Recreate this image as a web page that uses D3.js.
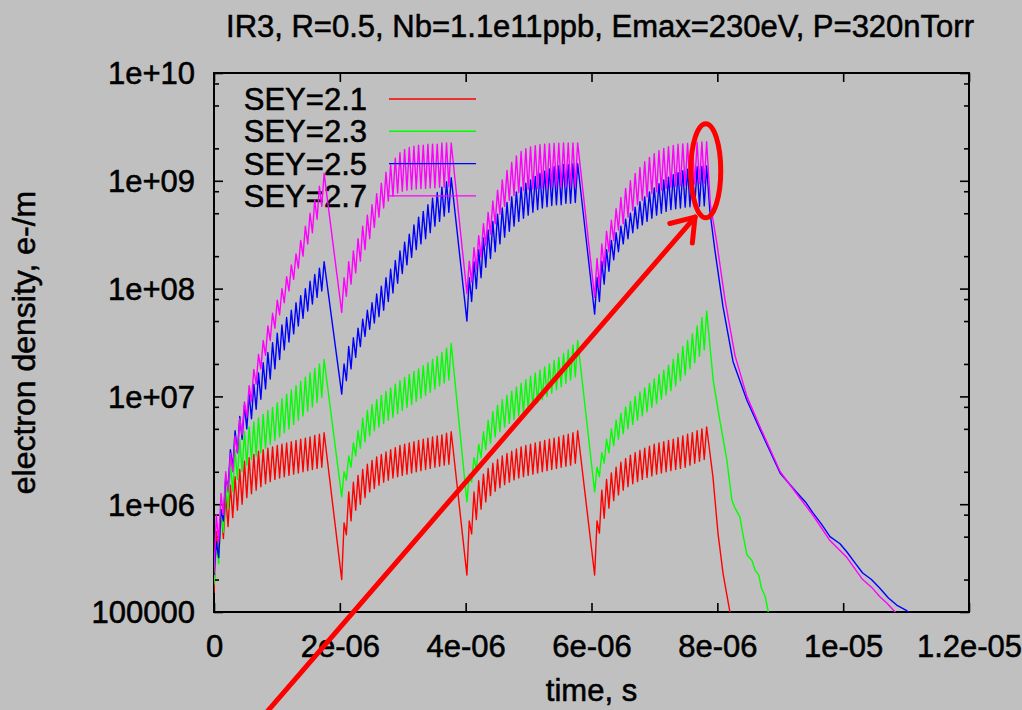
<!DOCTYPE html>
<html><head><meta charset="utf-8">
<script src="https://cdn.jsdelivr.net/npm/d3@7"></script>
<style>
html,body{margin:0;padding:0;background:#c0c0c0;}
svg{display:block;}
text{font-family:"Liberation Sans", Arial, Helvetica, sans-serif; fill:#000; stroke:#000; stroke-width:0.55px;}
</style></head><body>
<svg id="chart" width="1022" height="710"></svg>
<script>
// ---------------- data ----------------
const titleText = "IR3, R=0.5, Nb=1.1e11ppb, Emax=230eV, P=320nTorr";
const xLabelText = "time, s";
const yLabelText = "electron density, e-/m";
const seriesNames = ["SEY=2.1", "SEY=2.3", "SEY=2.5", "SEY=2.7"];
const xTickValues = [0, 2e-6, 4e-6, 6e-6, 8e-6, 1e-5, 1.2e-5];
const xTickLabels = ["0", "2e-06", "4e-06", "6e-06", "8e-06", "1e-05", "1.2e-05"];
const yTickValues = [1e5, 1e6, 1e7, 1e8, 1e9, 1e10];
const yTickLabels = ["100000", "1e+06", "1e+07", "1e+08", "1e+09", "1e+10"];
const yMinorMultipliers = [2, 5, 8];

// bunch trains: start (gap minimum) and time of last peak, seconds
const trainStart = [0, 2.03e-6, 4.02e-6, 6.05e-6];
const trainEnd = [1.75e-6, 3.77e-6, 5.78e-6, 7.83e-6];

// SEY=2.1 (red): peaks and troughs of each oscillation, per train
const sey21Peaks = [
  [5.6e5, 9e5, 1.2e6, 1.5e6, 1.8e6, 2.1e6, 2.5e6, 2.7e6, 2.9e6, 3.1e6, 3.2e6, 3.3e6, 3.4e6, 3.5e6, 3.6e6, 3.7e6, 3.8e6, 3.9e6, 4.0e6, 4.1e6, 4.2e6, 4.35e6, 4.45e6, 4.6e6],
  [6.7e5, 1.3e6, 1.6e6, 1.85e6, 2.1e6, 2.35e6, 2.55e6, 2.75e6, 2.9e6, 3.05e6, 3.2e6, 3.35e6, 3.5e6, 3.6e6, 3.7e6, 3.8e6, 3.9e6, 4.0e6, 4.1e6, 4.2e6, 4.3e6, 4.4e6, 4.55e6, 4.7e6],
  [7e5, 1.3e6, 1.65e6, 1.9e6, 2.15e6, 2.4e6, 2.6e6, 2.8e6, 2.95e6, 3.1e6, 3.25e6, 3.4e6, 3.5e6, 3.6e6, 3.7e6, 3.8e6, 3.9e6, 4.0e6, 4.1e6, 4.2e6, 4.35e6, 4.45e6, 4.6e6, 4.8e6],
  [7e5, 1.35e6, 1.7e6, 1.95e6, 2.2e6, 2.45e6, 2.65e6, 2.85e6, 3.0e6, 3.15e6, 3.3e6, 3.45e6, 3.6e6, 3.7e6, 3.8e6, 3.9e6, 4.0e6, 4.15e6, 4.3e6, 4.45e6, 4.6e6, 4.8e6, 5.0e6, 5.2e6]
];
const sey21Troughs = [
  [1.5e5, 3.2e5, 4.8e5, 6.2e5, 7.5e5, 8.8e5, 1.0e6, 1.15e6, 1.25e6, 1.35e6, 1.45e6, 1.55e6, 1.62e6, 1.7e6, 1.75e6, 1.8e6, 1.85e6, 1.9e6, 1.95e6, 2.0e6, 2.05e6, 2.1e6, 2.15e6, 2.2e6],
  [2.0e5, 5.2e5, 7e5, 8.8e5, 1.0e6, 1.15e6, 1.3e6, 1.4e6, 1.5e6, 1.6e6, 1.67e6, 1.75e6, 1.8e6, 1.85e6, 1.9e6, 1.95e6, 2.0e6, 2.05e6, 2.1e6, 2.15e6, 2.2e6, 2.25e6, 2.3e6, 2.35e6],
  [2.2e5, 5.3e5, 7.2e5, 9e5, 1.05e6, 1.2e6, 1.32e6, 1.42e6, 1.52e6, 1.6e6, 1.68e6, 1.75e6, 1.8e6, 1.85e6, 1.9e6, 1.95e6, 2.0e6, 2.05e6, 2.1e6, 2.15e6, 2.2e6, 2.25e6, 2.3e6, 2.4e6],
  [2.2e5, 5.4e5, 7.4e5, 9.2e5, 1.08e6, 1.22e6, 1.35e6, 1.45e6, 1.55e6, 1.62e6, 1.7e6, 1.77e6, 1.83e6, 1.9e6, 1.95e6, 2.0e6, 2.05e6, 2.1e6, 2.15e6, 2.2e6, 2.3e6, 2.4e6, 2.5e6, 2.6e6]
];
const sey21DecayT = [7.93e-6, 8.01e-6, 8.09e-6, 8.2e-6, 8.3e-6];
const sey21DecayV = [1.8e6, 5.4e5, 2.3e5, 1.0e5, 4.5e4];

// SEY=2.3 (green)
const sey23Peaks = [
  [4.5e5, 8.9e5, 1.6e6, 2.4e6, 3.2e6, 4.0e6, 4.7e6, 5.2e6, 5.8e6, 6.3e6, 6.8e6, 7.4e6, 7.9e6, 8.7e6, 9.5e6, 1.05e7, 1.15e7, 1.26e7, 1.38e7, 1.51e7, 1.66e7, 1.82e7, 2.0e7, 2.2e7],
  [2.0e6, 2.8e6, 3.7e6, 4.8e6, 6.3e6, 7.4e6, 8.4e6, 9.3e6, 1.02e7, 1.11e7, 1.2e7, 1.3e7, 1.4e7, 1.5e7, 1.6e7, 1.7e7, 1.8e7, 1.92e7, 2.05e7, 2.2e7, 2.35e7, 2.55e7, 2.8e7, 3.1e7],
  [1.9e6, 2.7e6, 3.6e6, 4.7e6, 6.0e6, 7.2e6, 8.3e6, 9.3e6, 1.02e7, 1.12e7, 1.22e7, 1.32e7, 1.43e7, 1.54e7, 1.65e7, 1.76e7, 1.88e7, 2.0e7, 2.15e7, 2.3e7, 2.5e7, 2.7e7, 3.0e7, 3.3e7],
  [2.2e6, 3.0e6, 4.0e6, 5.0e6, 6.0e6, 7.0e6, 8.0e6, 9.0e6, 1.0e7, 1.1e7, 1.2e7, 1.32e7, 1.45e7, 1.6e7, 1.75e7, 1.95e7, 2.2e7, 2.5e7, 2.9e7, 3.3e7, 3.8e7, 4.5e7, 5.4e7, 6.2e7]
];
const sey23Troughs = [
  [1.8e5, 2.8e5, 5.5e5, 9e5, 1.3e6, 1.7e6, 2.0e6, 2.3e6, 2.6e6, 2.8e6, 3.0e6, 3.3e6, 3.6e6, 3.9e6, 4.2e6, 4.6e6, 5.0e6, 5.5e6, 6.0e6, 6.6e6, 7.3e6, 8.0e6, 8.8e6, 9.8e6],
  [1.17e6, 1.67e6, 2.2e6, 2.8e6, 3.3e6, 3.8e6, 4.3e6, 4.8e6, 5.2e6, 5.6e6, 6.0e6, 6.4e6, 6.9e6, 7.4e6, 7.9e6, 8.4e6, 9.0e6, 9.6e6, 1.02e7, 1.09e7, 1.17e7, 1.25e7, 1.33e7, 1.42e7],
  [1.05e6, 1.6e6, 2.1e6, 2.7e6, 3.2e6, 3.7e6, 4.2e6, 4.7e6, 5.2e6, 5.6e6, 6.1e6, 6.6e6, 7.1e6, 7.6e6, 8.1e6, 8.7e6, 9.3e6, 1.0e7, 1.07e7, 1.15e7, 1.23e7, 1.32e7, 1.42e7, 1.52e7],
  [1.3e6, 1.8e6, 2.4e6, 3.0e6, 3.5e6, 4.0e6, 4.5e6, 5.0e6, 5.5e6, 6.0e6, 6.6e6, 7.2e6, 7.9e6, 8.6e6, 9.4e6, 1.03e7, 1.13e7, 1.25e7, 1.4e7, 1.58e7, 1.8e7, 2.05e7, 2.35e7, 2.7e7]
];
const sey23DecayT = [7.935e-6, 8.04e-6, 8.15e-6, 8.23e-6, 8.27e-6, 8.36e-6, 8.40e-6, 8.47e-6, 8.55e-6, 8.60e-6, 8.66e-6, 8.70e-6, 8.76e-6, 8.81e-6, 8.9e-6];
const sey23DecayV = [1.4e7, 6e6, 2.6e6, 1.1e6, 9.5e5, 7.6e5, 5.5e5, 3.4e5, 3.0e5, 2.45e5, 2.2e5, 1.67e5, 1.4e5, 1.0e5, 6e4];

// SEY=2.5 (blue)
const sey25Peaks = [
  [4.5e5, 8.9e5, 1.8e6, 3.2e6, 4.8e6, 6.5e6, 8.3e6, 1.05e7, 1.3e7, 1.65e7, 2.05e7, 2.55e7, 3.15e7, 3.85e7, 4.6e7, 5.4e7, 6.3e7, 7.4e7, 8.6e7, 1.0e8, 1.17e8, 1.35e8, 1.55e8, 1.78e8],
  [2.0e7, 2.9e7, 3.5e7, 4.3e7, 5.2e7, 6.3e7, 7.4e7, 8.9e7, 1.05e8, 1.26e8, 1.51e8, 1.82e8, 2.24e8, 2.7e8, 3.2e8, 3.9e8, 4.6e8, 5.2e8, 6.0e8, 6.9e8, 7.8e8, 8.7e8, 9.8e8, 1.07e9],
  [1.26e8, 1.78e8, 2.3e8, 2.95e8, 3.5e8, 4.2e8, 4.9e8, 5.6e8, 6.3e8, 7.1e8, 7.9e8, 8.7e8, 9.5e8, 1.02e9, 1.1e9, 1.17e9, 1.23e9, 1.29e9, 1.35e9, 1.38e9, 1.41e9, 1.41e9, 1.44e9, 1.44e9],
  [1.27e8, 1.8e8, 2.3e8, 2.8e8, 3.3e8, 3.8e8, 4.4e8, 5.0e8, 5.7e8, 6.4e8, 7.1e8, 7.9e8, 8.6e8, 9.4e8, 1.02e9, 1.08e9, 1.14e9, 1.19e9, 1.24e9, 1.28e9, 1.32e9, 1.35e9, 1.36e9, 1.37e9]
];
const sey25Troughs = [
  [2.2e5, 3.2e5, 7e5, 1.4e6, 2.2e6, 3.0e6, 4.0e6, 5.0e6, 6.2e6, 7.6e6, 9.4e6, 1.17e7, 1.45e7, 1.8e7, 2.2e7, 2.7e7, 3.2e7, 3.8e7, 4.5e7, 5.3e7, 6.2e7, 7.2e7, 8.3e7, 9.5e7],
  [1.05e7, 1.4e7, 1.8e7, 2.3e7, 2.9e7, 3.6e7, 4.2e7, 4.8e7, 5.5e7, 6.3e7, 7.6e7, 9.1e7, 1.12e8, 1.38e8, 1.66e8, 1.95e8, 2.3e8, 2.6e8, 2.9e8, 3.3e8, 3.8e8, 4.2e8, 4.7e8, 5.1e8],
  [5e7, 7.6e7, 1.0e8, 1.26e8, 1.58e8, 1.9e8, 2.2e8, 2.6e8, 3.0e8, 3.4e8, 3.8e8, 4.2e8, 4.5e8, 4.8e8, 5.1e8, 5.4e8, 5.6e8, 5.75e8, 5.9e8, 6.0e8, 6.0e8, 6.2e8, 6.2e8, 6.3e8],
  [5.8e7, 7.6e7, 1.1e8, 1.45e8, 1.85e8, 2.2e8, 2.6e8, 2.9e8, 3.3e8, 3.6e8, 3.9e8, 4.2e8, 4.5e8, 4.8e8, 5.0e8, 5.2e8, 5.4e8, 5.5e8, 5.6e8, 5.7e8, 5.75e8, 5.8e8, 5.8e8, 5.85e8]
];
const sey25DecayT = [7.88e-6, 7.96e-6, 8.09e-6, 8.25e-6, 8.47e-6, 8.68e-6, 9.0e-6, 9.26e-6, 9.40e-6, 9.52e-6, 9.65e-6, 9.79e-6, 9.95e-6, 10.06e-6, 10.2e-6, 10.31e-6, 10.45e-6, 10.58e-6, 10.72e-6, 10.85e-6, 11.01e-6, 11.15e-6];
const sey25DecayV = [5.3e8, 2.3e8, 6.8e7, 2.1e7, 9.2e6, 4.9e6, 1.94e6, 1.29e6, 1.05e6, 8.3e5, 6.6e5, 5.0e5, 4.3e5, 3.6e5, 2.8e5, 2.3e5, 2.0e5, 1.67e5, 1.35e5, 1.16e5, 1.03e5, 8.5e4];

// SEY=2.7 (magenta)
const sey27Peaks = [
  [7.9e5, 1.26e6, 2.0e6, 2.95e6, 4.3e6, 6.2e6, 8.9e6, 1.26e7, 1.78e7, 2.45e7, 3.3e7, 4.5e7, 5.9e7, 7.8e7, 1.0e8, 1.29e8, 1.66e8, 2.1e8, 2.8e8, 3.8e8, 5.0e8, 6.6e8, 8.9e8, 1.17e9],
  [1.26e8, 1.78e8, 2.24e8, 2.9e8, 3.8e8, 4.8e8, 6.0e8, 7.6e8, 9.5e8, 1.2e9, 1.41e9, 1.62e9, 1.82e9, 1.95e9, 2.04e9, 2.09e9, 2.14e9, 2.14e9, 2.19e9, 2.19e9, 2.19e9, 2.24e9, 2.24e9, 2.24e9],
  [1.8e8, 2.4e8, 3.1e8, 4.0e8, 5.1e8, 6.5e8, 8.2e8, 1.02e9, 1.25e9, 1.48e9, 1.7e9, 1.87e9, 1.98e9, 2.06e9, 2.12e9, 2.16e9, 2.19e9, 2.21e9, 2.22e9, 2.23e9, 2.24e9, 2.24e9, 2.25e9, 2.25e9],
  [1.9e8, 2.6e8, 3.4e8, 4.3e8, 5.5e8, 7.0e8, 8.5e8, 1.0e9, 1.17e9, 1.33e9, 1.5e9, 1.65e9, 1.78e9, 1.9e9, 2.0e9, 2.07e9, 2.13e9, 2.18e9, 2.2e9, 2.22e9, 2.25e9, 2.27e9, 2.29e9, 2.3e9]
];
const sey27Troughs = [
  [2.3e5, 4.5e5, 8e5, 1.3e6, 2.0e6, 3.0e6, 4.4e6, 6.4e6, 9e6, 1.3e7, 1.8e7, 2.4e7, 3.3e7, 4.3e7, 5.7e7, 7.4e7, 9.5e7, 1.22e8, 1.55e8, 2.0e8, 2.6e8, 3.3e8, 4.4e8, 5.8e8],
  [6e7, 8.5e7, 1.1e8, 1.4e8, 1.8e8, 2.3e8, 2.9e8, 3.7e8, 4.6e8, 5.6e8, 6.5e8, 7.2e8, 7.7e8, 8.0e8, 8.2e8, 8.3e8, 8.4e8, 8.5e8, 8.5e8, 8.6e8, 8.6e8, 8.7e8, 8.7e8, 8.8e8],
  [9e7, 1.15e8, 1.5e8, 1.95e8, 2.5e8, 3.2e8, 4.0e8, 4.9e8, 5.8e8, 6.6e8, 7.3e8, 7.8e8, 8.1e8, 8.3e8, 8.4e8, 8.5e8, 8.6e8, 8.6e8, 8.7e8, 8.7e8, 8.7e8, 8.8e8, 8.8e8, 8.8e8],
  [8.3e7, 1.04e8, 1.6e8, 2.2e8, 2.8e8, 3.5e8, 4.0e8, 4.6e8, 5.3e8, 6.0e8, 6.6e8, 7.1e8, 7.6e8, 7.9e8, 8.2e8, 8.5e8, 8.7e8, 8.9e8, 9.0e8, 9.1e8, 9.2e8, 9.3e8, 9.4e8, 9.5e8]
];
const sey27DecayT = [7.89e-6, 7.99e-6, 8.12e-6, 8.28e-6, 8.47e-6, 8.68e-6, 9.0e-6, 9.26e-6, 9.52e-6, 9.79e-6, 10.06e-6, 10.31e-6, 10.45e-6, 10.58e-6, 10.7e-6, 10.8e-6, 10.9e-6];
const sey27DecayV = [6e8, 2.7e8, 8e7, 2.4e7, 1.0e7, 5.2e6, 2.0e6, 1.25e6, 7.9e5, 4.6e5, 3.2e5, 2.0e5, 1.7e5, 1.39e5, 1.2e5, 1.04e5, 9e4];

// annotation (data coordinates)
const ellipseCenter = [7.816e-6, 1.24e9];
const arrowTail = [0.80e-6, 1.11e4];
const arrowTip = [7.645e-6, 4.6e8];

// ---------------- styles ----------------
const seriesColors = ["#ff0000", "#00ff00", "#0000ff", "#ff00ff"];
const FONT = 31;
const plot = {left: 214, right: 969, top: 73, bottom: 612};

// ---------------- drawing ----------------
const svg = d3.select("#chart");
svg.append("rect").attr("width", 1022).attr("height", 710).attr("fill", "#c0c0c0");

const x = d3.scaleLinear().domain([0, 1.2e-5]).range([plot.left, plot.right]);
const y = d3.scaleLog().domain([1e5, 1e10]).range([plot.bottom, plot.top]);

function buildPoints(peaks, troughs, decT, decV) {
  const pts = [];
  for (let k = 0; k < trainStart.length; k++) {
    const s = trainStart[k], e = trainEnd[k];
    const n = peaks[k].length;
    const p = (e - s) / (n - 0.5);
    for (let i = 0; i < n; i++) {
      pts.push([s + i * p, troughs[k][i]]);
      pts.push([s + (i + 0.5) * p, peaks[k][i]]);
    }
  }
  decT.forEach((t, i) => pts.push([t, decV[i]]));
  return pts;
}

const series = [
  {name: seriesNames[0], color: seriesColors[0], pts: buildPoints(sey21Peaks, sey21Troughs, sey21DecayT, sey21DecayV)},
  {name: seriesNames[1], color: seriesColors[1], pts: buildPoints(sey23Peaks, sey23Troughs, sey23DecayT, sey23DecayV)},
  {name: seriesNames[2], color: seriesColors[2], pts: buildPoints(sey25Peaks, sey25Troughs, sey25DecayT, sey25DecayV)},
  {name: seriesNames[3], color: seriesColors[3], pts: buildPoints(sey27Peaks, sey27Troughs, sey27DecayT, sey27DecayV)}
];

svg.append("defs").append("clipPath").attr("id", "clip")
  .append("rect").attr("x", plot.left).attr("y", plot.top)
  .attr("width", plot.right - plot.left).attr("height", plot.bottom - plot.top);

// axes (ticks inward on all four sides)
const minorVals = [];
for (let e = 5; e < 10; e++) yMinorMultipliers.forEach(m => minorVals.push(m * Math.pow(10, e)));

function styleAxis(g) {
  g.select(".domain").remove();
  g.selectAll(".tick line").attr("stroke", "#000").attr("stroke-width", 1.6);
  g.selectAll(".tick text").style("font-size", FONT + "px").attr("fill", "#000");
}

svg.append("g").attr("transform", `translate(0,${plot.bottom})`)
  .call(d3.axisBottom(x).tickValues(xTickValues).tickFormat((d, i) => xTickLabels[i]).tickSize(-9))
  .call(styleAxis)
  .call(g => g.selectAll(".tick text").attr("y", 45).attr("dy", null));
svg.append("g").attr("transform", `translate(0,${plot.top})`)
  .call(d3.axisTop(x).tickValues(xTickValues).tickFormat("").tickSize(-9)).call(styleAxis);
svg.append("g").attr("transform", `translate(${plot.left},0)`)
  .call(d3.axisLeft(y).tickValues(yTickValues).tickFormat((d, i) => yTickLabels[i]).tickSize(-9))
  .call(styleAxis)
  .call(g => g.selectAll(".tick text").attr("x", -19).attr("dy", "0.35em"));
svg.append("g").attr("transform", `translate(${plot.left},0)`)
  .call(d3.axisLeft(y).tickValues(minorVals).tickFormat("").tickSize(-5)).call(styleAxis);
svg.append("g").attr("transform", `translate(${plot.right},0)`)
  .call(d3.axisRight(y).tickValues(yTickValues).tickFormat("").tickSize(-9)).call(styleAxis);
svg.append("g").attr("transform", `translate(${plot.right},0)`)
  .call(d3.axisRight(y).tickValues(minorVals).tickFormat("").tickSize(-5)).call(styleAxis);

svg.append("rect").attr("x", plot.left).attr("y", plot.top)
  .attr("width", plot.right - plot.left).attr("height", plot.bottom - plot.top)
  .attr("fill", "none").attr("stroke", "#000").attr("stroke-width", 2);

// title and axis labels
svg.append("text").attr("x", 600).attr("y", 37).attr("text-anchor", "middle")
  .style("font-size", FONT + "px").text(titleText);
svg.append("text").attr("x", (plot.left + plot.right) / 2).attr("y", 701).attr("text-anchor", "middle")
  .style("font-size", FONT + "px").text(xLabelText);
svg.append("text").attr("transform", `translate(35,${(plot.top + plot.bottom) / 2}) rotate(-90)`)
  .attr("text-anchor", "middle").style("font-size", (FONT + 1) + "px").text(yLabelText);

// legend text first (data drawn over it, as in the original)
const legendTextRight = 367, legendLineX0 = 389, legendLineX1 = 476, legendY0 = 99, legendStep = 32.3;
series.forEach((s, i) => {
  svg.append("text").attr("x", legendTextRight).attr("y", legendY0 + i * legendStep + 11)
    .attr("text-anchor", "end").style("font-size", FONT + "px").text(s.name);
});

const line = d3.line().x(d => x(d[0])).y(d => y(d[1]));
const dataG = svg.append("g").attr("clip-path", "url(#clip)");
series.forEach((s, i) => {
  svg.append("line").attr("x1", legendLineX0).attr("x2", legendLineX1)
    .attr("y1", legendY0 + i * legendStep).attr("y2", legendY0 + i * legendStep)
    .attr("stroke", s.color).attr("stroke-width", 1.4);
  dataG.append("path").datum(s.pts).attr("d", line)
    .attr("fill", "none").attr("stroke", s.color).attr("stroke-width", 1.4)
    .attr("stroke-linejoin", "round");
});

// annotation: red ellipse and arrow
const ann = svg.append("g").attr("stroke", "#ff0000").attr("fill", "none")
  .attr("stroke-width", 5).attr("stroke-linecap", "round");
ann.append("ellipse").attr("cx", x(ellipseCenter[0])).attr("cy", y(ellipseCenter[1]))
  .attr("rx", 15).attr("ry", 47);
const tx = x(arrowTip[0]), ty = y(arrowTip[1]);
const fx = x(arrowTail[0]), fy = y(arrowTail[1]);
ann.append("line").attr("x1", fx).attr("y1", fy).attr("x2", tx).attr("y2", ty);
const back = Math.atan2(fy - ty, fx - tx);
[-35, 35].forEach(a => {
  const ang = back + a * Math.PI / 180;
  ann.append("line").attr("x1", tx).attr("y1", ty)
    .attr("x2", tx + 26 * Math.cos(ang)).attr("y2", ty + 26 * Math.sin(ang));
});
</script>
</body></html>
